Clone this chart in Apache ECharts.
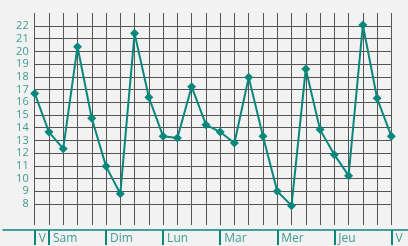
<!DOCTYPE html>
<html>
<head>
<meta charset="utf-8">
<style>
  html, body { margin: 0; padding: 0; background: #f2f2f2; }
  #chart { width: 408px; height: 246px; }
</style>
<script src="https://cdn.jsdelivr.net/npm/echarts@6/dist/echarts.min.js"></script>
</head>
<body>
<div id="chart"></div>
<script>
  // un point toutes les 6 heures, du vendredi soir au vendredi suivant
  var slots = ['0','1','2','3','4','5','6','7','8','9','10','11','12','13','14','15','16','17','18','19','20','21','22','23','24','25'];
  var values = [16.7, 13.66, 12.35, 20.37, 14.74, 10.96, 8.81, 21.42, 16.39, 13.32, 13.19, 17.23, 14.24,
                13.66, 12.8, 17.96, 13.32, 9.0, 7.87, 18.62, 13.85, 11.88, 10.23, 22.08, 16.31, 13.32];
  // jours marqués sur l'axe (index du créneau -> nom)
  var dayIndex = [0, 1, 5, 9, 13, 17, 21, 25];
  var dayNames = ['V', 'Sam', 'Dim', 'Lun', 'Mar', 'Mer', 'Jeu', 'V'];

  var teal = '#0a877c';
  var tealText = '#3c9c91';
  var gridColor = '#555';

  var chart = echarts.init(document.getElementById('chart'), null, { renderer: 'canvas' });

  var option = {
    backgroundColor: '#f2f2f2',
    animation: false,
    textStyle: { fontFamily: 'Open Sans' },
    grid: [
      { left: 34.7, right: 16.6, top: 26, bottom: 42 },   // courbe + lignes horizontales
      { left: 34.7, right: 16.6, top: 13, bottom: 21 },   // lignes verticales
      { left: 3, right: 0, top: 13, bottom: 16 }          // trait de l'axe
    ],
    xAxis: [
      {
        gridIndex: 0,
        type: 'category',
        data: slots,
        boundaryGap: false,
        position: 'bottom',
        offset: 26,
        axisLine: { show: false },
        axisTick: {
          show: true,
          inside: false,
          length: 15,
          interval: function (i) { return dayIndex.indexOf(i) >= 0; },
          lineStyle: { color: teal, width: 2 }
        },
        axisLabel: {
          interval: function (i) { return dayIndex.indexOf(i) >= 0; },
          formatter: function (v, i) {
            var k = dayIndex.indexOf(i);
            return k >= 0 ? dayNames[k] : '';
          },
          align: 'left',
          padding: [0, 0, 0, 4],
          margin: 3,
          color: tealText,
          fontSize: 12
        },
        splitLine: { show: false }
      },
      {
        gridIndex: 1,
        type: 'category',
        data: slots,
        boundaryGap: false,
        axisLine: { show: false },
        axisTick: { show: false },
        axisLabel: { show: false },
        splitLine: { show: true, interval: 0, lineStyle: { color: gridColor, width: 1 } }
      },
      {
        gridIndex: 2,
        type: 'value',
        min: 0,
        max: 1,
        axisLine: { show: true, lineStyle: { color: teal, width: 1.5 } },
        axisTick: { show: false },
        axisLabel: { show: false },
        splitLine: { show: false }
      }
    ],
    yAxis: [
      {
        gridIndex: 0,
        type: 'value',
        min: 8,
        max: 22,
        interval: 1,
        axisLine: { show: false },
        axisTick: { show: false },
        axisLabel: { color: tealText, fontSize: 11, margin: 6 },
        splitLine: { show: true, lineStyle: { color: gridColor, width: 1 } }
      },
      { gridIndex: 1, type: 'value', show: false },
      { gridIndex: 2, type: 'value', show: false }
    ],
    series: [
      {
        type: 'line',
        xAxisIndex: 0,
        yAxisIndex: 0,
        data: values,
        clip: false,
        symbol: 'diamond',
        symbolSize: 9,
        lineStyle: { color: teal, width: 2 },
        itemStyle: { color: teal },
        z: 5
      }
    ]
  };

  chart.setOption(option);
</script>
</body>
</html>
